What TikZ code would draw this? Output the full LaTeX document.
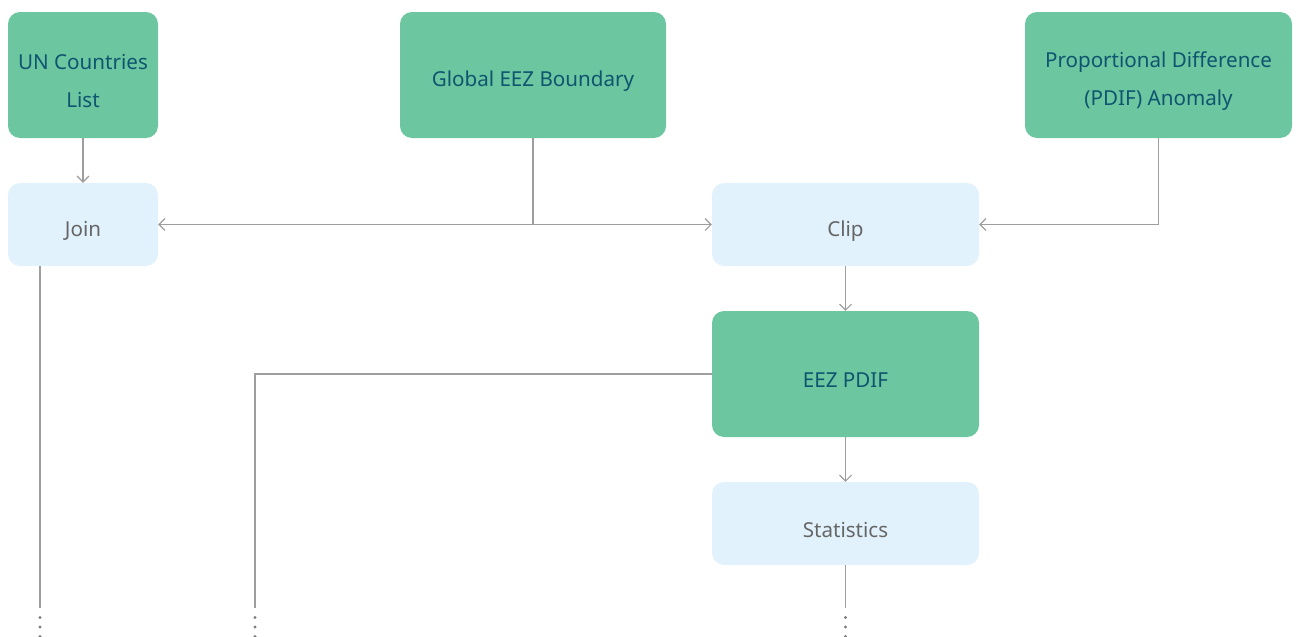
\documentclass[tikz,border=0pt]{standalone}
\usepackage{fontspec}
\setmainfont{Noto Sans}
\usetikzlibrary{arrows.meta,calc}
\definecolor{gbox}{HTML}{6CC6A0}
\definecolor{gtext}{HTML}{0F5570}
\definecolor{bbox}{HTML}{E1F2FC}
\definecolor{btext}{HTML}{666666}
\definecolor{lgray}{HTML}{9E9E9E}
\begin{document}
\begin{tikzpicture}[x=1pt,y=-1pt,
  greenbox/.style={fill=gbox, rounded corners=12pt, inner sep=0pt},
  bluebox/.style={fill=bbox, rounded corners=12pt, inner sep=0pt},
  gtxt/.style={text=gtext, align=center, font=\fontsize{20.6}{38}\selectfont, inner sep=0pt, yshift=-6.5pt},
  btxt/.style={text=btext, align=center, font=\fontsize{20.6}{38}\selectfont, inner sep=0pt, yshift=-6.5pt},
  conn/.style={draw=lgray, line width=1.1pt, -{Straight Barb[length=6pt,width=12pt,line width=1.1pt]}},
  plain/.style={draw=lgray, line width=1.1pt},
  dotsty/.style={fill=lgray!80!black}]
\useasboundingbox (0,0) rectangle (1296,637);
\node[greenbox, minimum width=150pt, minimum height=126pt] (un) at (83,75) {};
\node[greenbox, minimum width=266pt, minimum height=126pt] (geez) at (533,75) {};
\node[greenbox, minimum width=267pt, minimum height=126pt] (pdif) at (1158.5,75) {};
\node[bluebox, minimum width=150pt, minimum height=83pt] (join) at (83,224.5) {};
\node[bluebox, minimum width=267pt, minimum height=83pt] (clip) at (845.5,224.5) {};
\node[greenbox, minimum width=267pt, minimum height=126pt] (eez) at (845.5,374) {};
\node[bluebox, minimum width=267pt, minimum height=83pt] (stat) at (845.5,523.5) {};
\node[gtxt] (unt) at (un.center) {UN Countries\\List};
\node[gtxt] (geezt) at (geez.center) {Global EEZ Boundary};
\node[gtxt] (pdift) at (pdif.center) {Proportional Difference\\(PDIF) Anomaly};
\node[btxt] (joint) at (join.center) {Join};
\node[btxt] (clipt) at (clip.center) {Clip};
\node[gtxt] (eezt) at (eez.center) {EEZ PDIF};
\node[btxt] (statt) at (stat.center) {Statistics};
\coordinate (mid) at (533,224.5);
\coordinate (pc) at (1158.5,224.5);
\coordinate (j1) at (40,608);
\coordinate (e1) at (255,374);
\coordinate (e2) at (255,608);
\coordinate (s1) at (845.5,608);
\draw[conn] (un) -- (join);
\draw[plain] (geez.south) -- (mid);
\draw[conn] (mid) -- (join.east);
\draw[conn] (mid) -- (clip.west);
\draw[plain] (pdif.south) -- (pc);
\draw[conn] (pc) -- (clip.east);
\draw[conn] (clip) -- (eez);
\draw[conn] (eez) -- (stat);
\draw[plain] (join.south -| j1) -- (j1);
\draw[plain] (eez.west) -- (e1) -- (e2);
\draw[plain] (stat.south) -- (s1);
\foreach \p in {j1,e2,s1}{
  \foreach \d in {9.5,19,28.5}{
    \fill[dotsty] ($(\p)+(0,\d)$) circle (1.6pt);
  }
}
\end{tikzpicture}
\end{document}
